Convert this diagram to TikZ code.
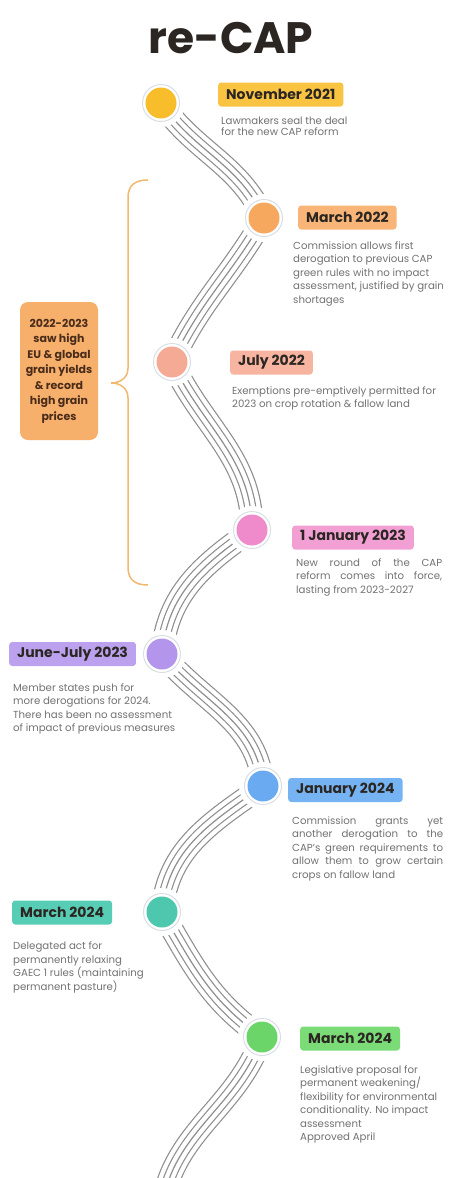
\documentclass[tikz,border=0pt]{standalone}
\usepackage{fontspec}
\setmainfont{Poppins}
\usepackage{tikz}

\definecolor{roadgray}{HTML}{8E8E8E}
\definecolor{ringgray}{HTML}{D9DEE6}
\definecolor{labeltext}{HTML}{2B2622}
\definecolor{desctext}{HTML}{727272}
\definecolor{bracecol}{HTML}{F2B86E}
\definecolor{sidefill}{HTML}{F7B06C}
\definecolor{sidetext}{HTML}{4A2C1A}
% dots and boxes
\definecolor{dotA}{HTML}{F7BD2B}\definecolor{boxA}{HTML}{FAC443}
\definecolor{dotB}{HTML}{F6A95E}\definecolor{boxB}{HTML}{F8B577}
\definecolor{dotC}{HTML}{F4AA94}\definecolor{boxC}{HTML}{F7B4A0}
\definecolor{dotD}{HTML}{EF8ACB}\definecolor{boxD}{HTML}{F2A0D4}
\definecolor{dotE}{HTML}{B396EB}\definecolor{boxE}{HTML}{BCA2EE}
\definecolor{dotF}{HTML}{6AAAF0}\definecolor{boxF}{HTML}{76B3F2}
\definecolor{dotG}{HTML}{4DC7AE}\definecolor{boxG}{HTML}{58CDB5}
\definecolor{dotH}{HTML}{6CD56A}\definecolor{boxH}{HTML}{7BDB77}

\begin{document}
\begin{tikzpicture}[x=1pt,y=1pt]
    \tikzset{dot/.style = {shape=circle,draw=ringgray,line width=1pt,fill=white,minimum size=37pt,inner sep=0pt,
        path picture={\fill[#1] (path picture bounding box.center) circle (15.5pt);}}}
    \tikzset{datebox/.style = {shape=rectangle,rounded corners=3pt,fill=#1,text=labeltext,
        font=\fontsize{14}{16}\selectfont\bfseries,minimum height=24pt,inner xsep=8pt,anchor=west}}
    \tikzset{desc/.style = {anchor=north west,inner sep=0pt,align=left,text=desctext,
        font=\fontsize{10.2}{13.5}\selectfont}}
    \tikzset{road/.style = {draw=roadgray,line width=23.2pt,
        postaction={draw=white,line width=20.8pt},
        postaction={draw=roadgray,line width=12.2pt},
        postaction={draw=white,line width=9.8pt},
        postaction={draw=roadgray,line width=1.2pt}}}

    \fill[white] (0,0) rectangle (458,-1178);
    \useasboundingbox (0,0) rectangle (458,-1178);

    % title
    \node[font=\fontsize{44}{48}\selectfont\bfseries,text=labeltext] (title) at (231,-38) {re-CAP};

    % stops on the road
    \coordinate (p1) at (161,-103);
    \coordinate (p2) at (264,-218);
    \coordinate (p3) at (172,-362);
    \coordinate (p4) at (252,-530);
    \coordinate (p5) at (162,-654);
    \coordinate (p6) at (263,-786);
    \coordinate (p7) at (162,-912);
    \coordinate (p8) at (262,-1037);
    \coordinate (pend) at (162,-1205);

    % road
    \begin{scope}
    \clip (0,0) rectangle (458,-1178);
    \draw[road] (p1) to[out=-55,in=115] (p2)
        to[out=-120,in=65] (p3)
        to[out=-65,in=90] (p4)
        to[out=-145,in=85] (p5)
        to[out=-50,in=95] (p6)
        to[out=-145,in=85] (p7)
        to[out=-60,in=145] (p8)
        to[out=-110,in=80] (pend);
    \end{scope}
    \foreach \i in {1,...,8}
        \fill[white] (p\i) circle (24pt);

    % vertices
    \node[dot=dotA] (n1) at (p1) {};
    \node[dot=dotB] (n2) at (p2) {};
    \node[dot=dotC] (n3) at (p3) {};
    \node[dot=dotD] (n4) at (p4) {};
    \node[dot=dotE] (n5) at (p5) {};
    \node[dot=dotF] (n6) at (p6) {};
    \node[dot=dotG] (n7) at (p7) {};
    \node[dot=dotH] (n8) at (p8) {};

    % dates
    \node[datebox=boxA] (l1) at (218,-94.5) {November 2021};
    \node[datebox=boxB] (l2) at (298,-217.5) {March 2022};
    \node[datebox=boxC] (l3) at (230,-362.5) {July 2022};
    \node[datebox=boxD] (l4) at (292,-537.5) {1 January 2023};
    \node[datebox=boxE] (l5) at (9,-654) {June-July 2023};
    \node[datebox=boxF] (l6) at (288,-790) {January 2024};
    \node[datebox=boxG] (l7) at (12,-912.5) {March 2024};
    \node[datebox=boxH] (l8) at (300,-1038.5) {March 2024};

    % texts
    \node[desc,font=\fontsize{10.2}{11}\selectfont] (d1) at (221,-116.5) {Lawmakers seal the deal\\for the new CAP reform};
    \node[desc] (d2) at (293,-241.5) {Commission allows first\\derogation to previous CAP\\green rules with no impact\\assessment, justified by grain\\shortages};
    \node[desc] (d3) at (232,-386.5) {Exemptions pre-emptively permitted for\\2023 on crop rotation \& fallow land};
    \node[desc] (d4) at (296,-558) {\makebox[146pt][s]{New round of the CAP}\\\makebox[146pt][s]{reform comes into force,}\\lasting from 2023-2027};
    \node[desc] (d5) at (13,-683) {Member states push for\\more derogations for 2024.\\There has been no assessment\\of impact of previous measures};
    \node[desc] (d6) at (292,-816.5) {\makebox[151pt][s]{Commission grants yet}\\\makebox[151pt][s]{another derogation to the}\\\makebox[151pt][s]{CAP's green requirements to}\\\makebox[151pt][s]{allow them to grow certain}\\crops on fallow land};
    \node[desc] (d7) at (13,-941.5) {Delegated act for\\permanently relaxing\\GAEC 1 rules (maintaining\\permanent pasture)};
    \node[desc] (d8) at (300,-1065) {Legislative proposal for\\permanent weakening/\\flexibility for environmental\\conditionality. No impact\\assessment\\Approved April};

    % side note and brace
    \node[shape=rectangle,rounded corners=8pt,fill=sidefill,text=sidetext,align=center,
        font=\fontsize{11}{15.5}\selectfont\bfseries,minimum width=78pt,minimum height=138pt,inner sep=2pt]
        (note) at (59,-371) {2022-2023\\saw high\\EU \& global\\grain yields\\\& record\\high grain\\prices};
    \draw[bracecol,line width=1.5pt] (148,-180) .. controls (134,-180) and (128,-186) .. (128,-198)
        -- (128,-368) .. controls (128,-378) and (120,-383) .. (111,-383)
        .. controls (120,-383) and (128,-388) .. (128,-398)
        -- (128,-567) .. controls (128,-579) and (134,-585) .. (148,-585);
\end{tikzpicture}
\end{document}
